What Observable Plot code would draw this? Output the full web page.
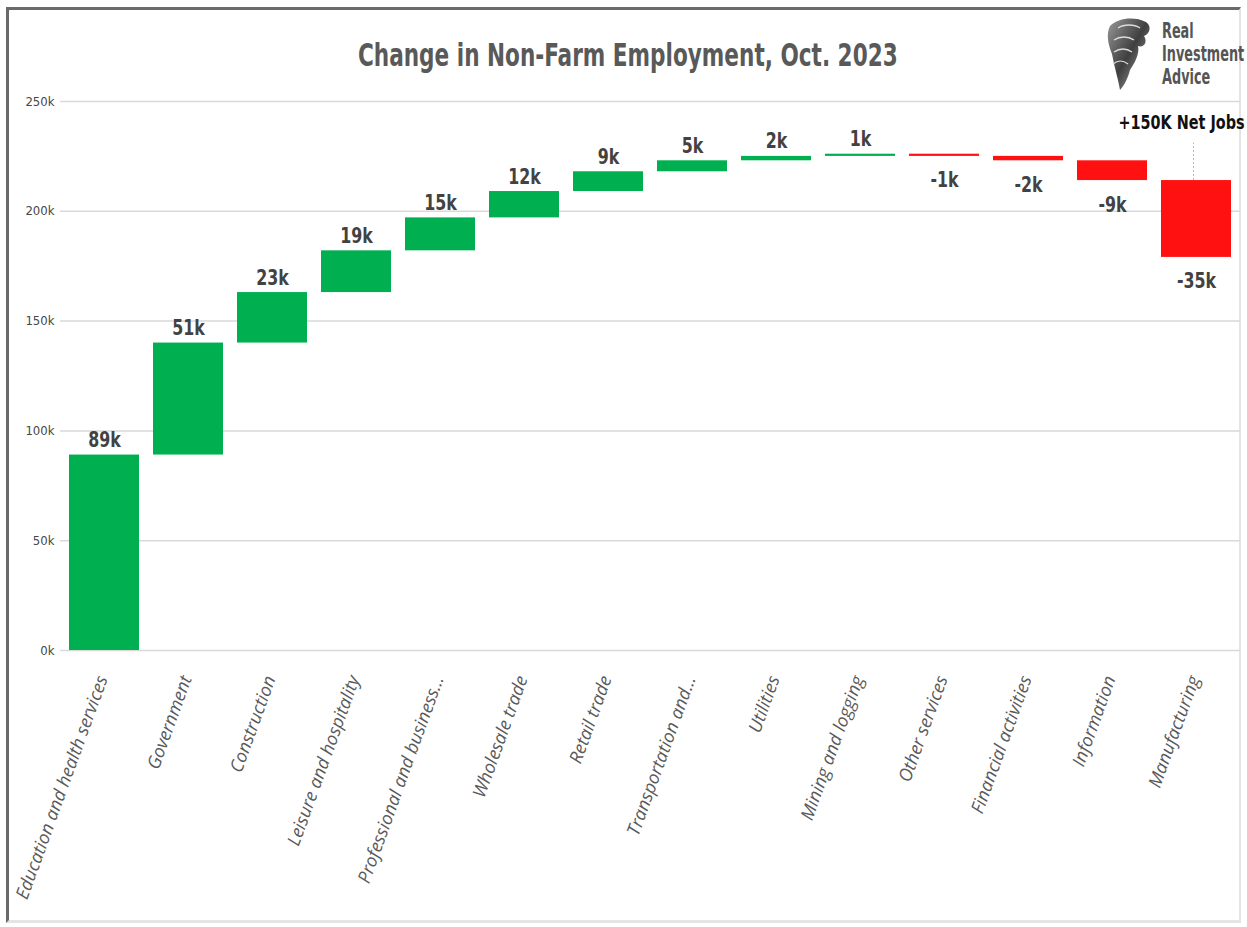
<!DOCTYPE html>
<html>
<head>
<meta charset="utf-8">
<script src="https://cdn.jsdelivr.net/npm/d3@7"></script>
<script src="https://cdn.jsdelivr.net/npm/@observablehq/plot@0.6"></script>
<style>
  html, body { margin: 0; padding: 0; background: #fff; }
  #wrap { position: relative; width: 1247px; height: 927px; overflow: hidden; background: #fff; }
  #frame { position: absolute; left: 6px; top: 7px; width: 1235px; height: 916px;
           border-top: 3px solid #6a6a6a; border-left: 3px solid #6a6a6a;
           border-right: 2px solid #e4e4e4; border-bottom: 3px solid #e4e4e4; box-sizing: border-box; }
  #title { position: absolute; left: 0; top: 36px; width: 1256px; text-align: center; }
  #title span { display: inline-block; transform: scaleX(0.75); transform-origin: center;
           font-family: "DejaVu Sans Condensed", "Open Sans", sans-serif;
           font-weight: bold; font-size: 32px; color: #595959; white-space: nowrap; }
  #logo { position: absolute; left: 1104px; top: 14px; width: 60px; height: 80px; }
  #logoText { position: absolute; left: 1162px; top: 20px; line-height: 23px;
              transform: scaleX(0.68); transform-origin: left top; white-space: nowrap;
              font-family: "DejaVu Sans Condensed", sans-serif;
              font-weight: bold; font-size: 21px; color: #555; }
  #chart { position: absolute; left: 0; top: 90px; }
</style>
</head>
<body>
<div id="wrap">
  <div id="frame"></div>
  <div id="title"><span>Change in Non-Farm Employment, Oct. 2023</span></div>
  <svg id="logo" viewBox="0 0 60 80" width="60" height="80">
    <defs>
      <linearGradient id="eg" x1="0" y1="0" x2="1" y2="1">
        <stop offset="0" stop-color="#9a9a9a"/>
        <stop offset="0.5" stop-color="#3f3f3f"/>
        <stop offset="1" stop-color="#b5b5b5"/>
      </linearGradient>
    </defs>
    <path d="M6,12 C14,4 30,2 42,8 C48,12 46,20 40,22 C44,28 40,34 34,32 C36,40 30,50 26,56 C24,64 20,72 16,76 C14,64 10,52 8,40 C4,30 2,20 6,12 Z" fill="url(#eg)"/>
    <path d="M14,14 C20,10 30,10 36,14" stroke="#ddd" stroke-width="1.5" fill="none"/>
    <path d="M10,26 C16,22 24,22 30,26" stroke="#ddd" stroke-width="1.5" fill="none"/>
    <path d="M10,38 C16,34 22,34 28,38" stroke="#ddd" stroke-width="1.5" fill="none"/>
    <path d="M9,50 C14,46 19,46 24,50" stroke="#ddd" stroke-width="1.2" fill="none"/>
  </svg>
  <div id="logoText">Real<br>Investment<br>Advice</div>
  <div id="chart"></div>
</div>
<script>
// ---- data (thousands of jobs) ----
const categories = [
  "Education and health services", "Government", "Construction", "Leisure and hospitality",
  "Professional and business…", "Wholesale trade", "Retail trade", "Transportation and…",
  "Utilities", "Mining and logging", "Other services", "Financial activities",
  "Information", "Manufacturing"
];
const values = [89, 51, 23, 19, 15, 12, 9, 5, 2, 1, -1, -2, -9, -35];
const yTicks = [0, 50, 100, 150, 200, 250];
const netLabel = "+150K Net Jobs";

// ---- build waterfall table ----
let run = 0;
const rows = categories.map((c, i) => {
  const start = run;
  run += values[i];
  return { category: c, value: values[i], start, end: run };
});
const pos = rows.filter(d => d.value >= 0);
const neg = rows.filter(d => d.value < 0);
const last = rows[rows.length - 1];

const green = "#00b050";
const red = "#ff1111";
const narrow = "DejaVu Sans Condensed, sans-serif";

const chart = Plot.plot({
  width: 1247,
  height: 837,
  marginTop: 11,
  marginBottom: 277,
  marginLeft: 60,
  marginRight: 7,
  x: { domain: categories, paddingInner: 0.17, paddingOuter: 0.1, label: null },
  y: { domain: [0, 250], label: null },
  style: { background: "transparent", overflow: "visible" },
  marks: [
    Plot.gridY(yTicks, { stroke: "#d9d9d9", strokeOpacity: 1, strokeWidth: 1.5 }),
    Plot.barY(rows, { x: "category", y1: "start", y2: "end", fill: d => d.value >= 0 ? green : red }),
    Plot.text(pos, { x: "category", y: "end", text: d => d.value + "k", dy: -15,
      fontFamily: narrow, fontWeight: "bold", fontSize: 22, fill: "#424242", className: "narrow" }),
    Plot.text(neg, { x: "category", y: "end", text: d => d.value + "k", dy: 24,
      fontFamily: narrow, fontWeight: "bold", fontSize: 22, fill: "#424242", className: "narrow" }),
    Plot.ruleX([last], { x: "category", y1: d => d.start, y2: d => d.start + 17, dx: -3,
      stroke: "#9fbfbf", strokeDasharray: "2,2", strokeWidth: 1 }),
    Plot.text([last], { x: "category", y: d => d.start, text: () => netLabel, dy: -58, dx: -15,
      fontFamily: narrow, fontWeight: "bold", fontSize: 20, fill: "#111", className: "narrow" }),
    Plot.axisY(yTicks, { tickSize: 0, tickPadding: 6, tickFormat: d => d + "k",
      fontFamily: narrow, fontSize: 13, fill: "#474747", label: null }),
    Plot.axisX({ tickSize: 0, tickPadding: 26, dx: -2, tickRotate: -70, fontStyle: "italic",
      fontFamily: "Open Sans, sans-serif", fontSize: 18, fill: "#595959", label: null })
  ]
});
// condense the bold label texts (real text kept, just horizontally scaled)
d3.select(chart).selectAll("g.narrow text").each(function () {
  const t = this.getAttribute("transform") || "";
  this.setAttribute("transform", t + " scale(0.8,1)");
});
document.getElementById("chart").appendChild(chart);
</script>
</body>
</html>
